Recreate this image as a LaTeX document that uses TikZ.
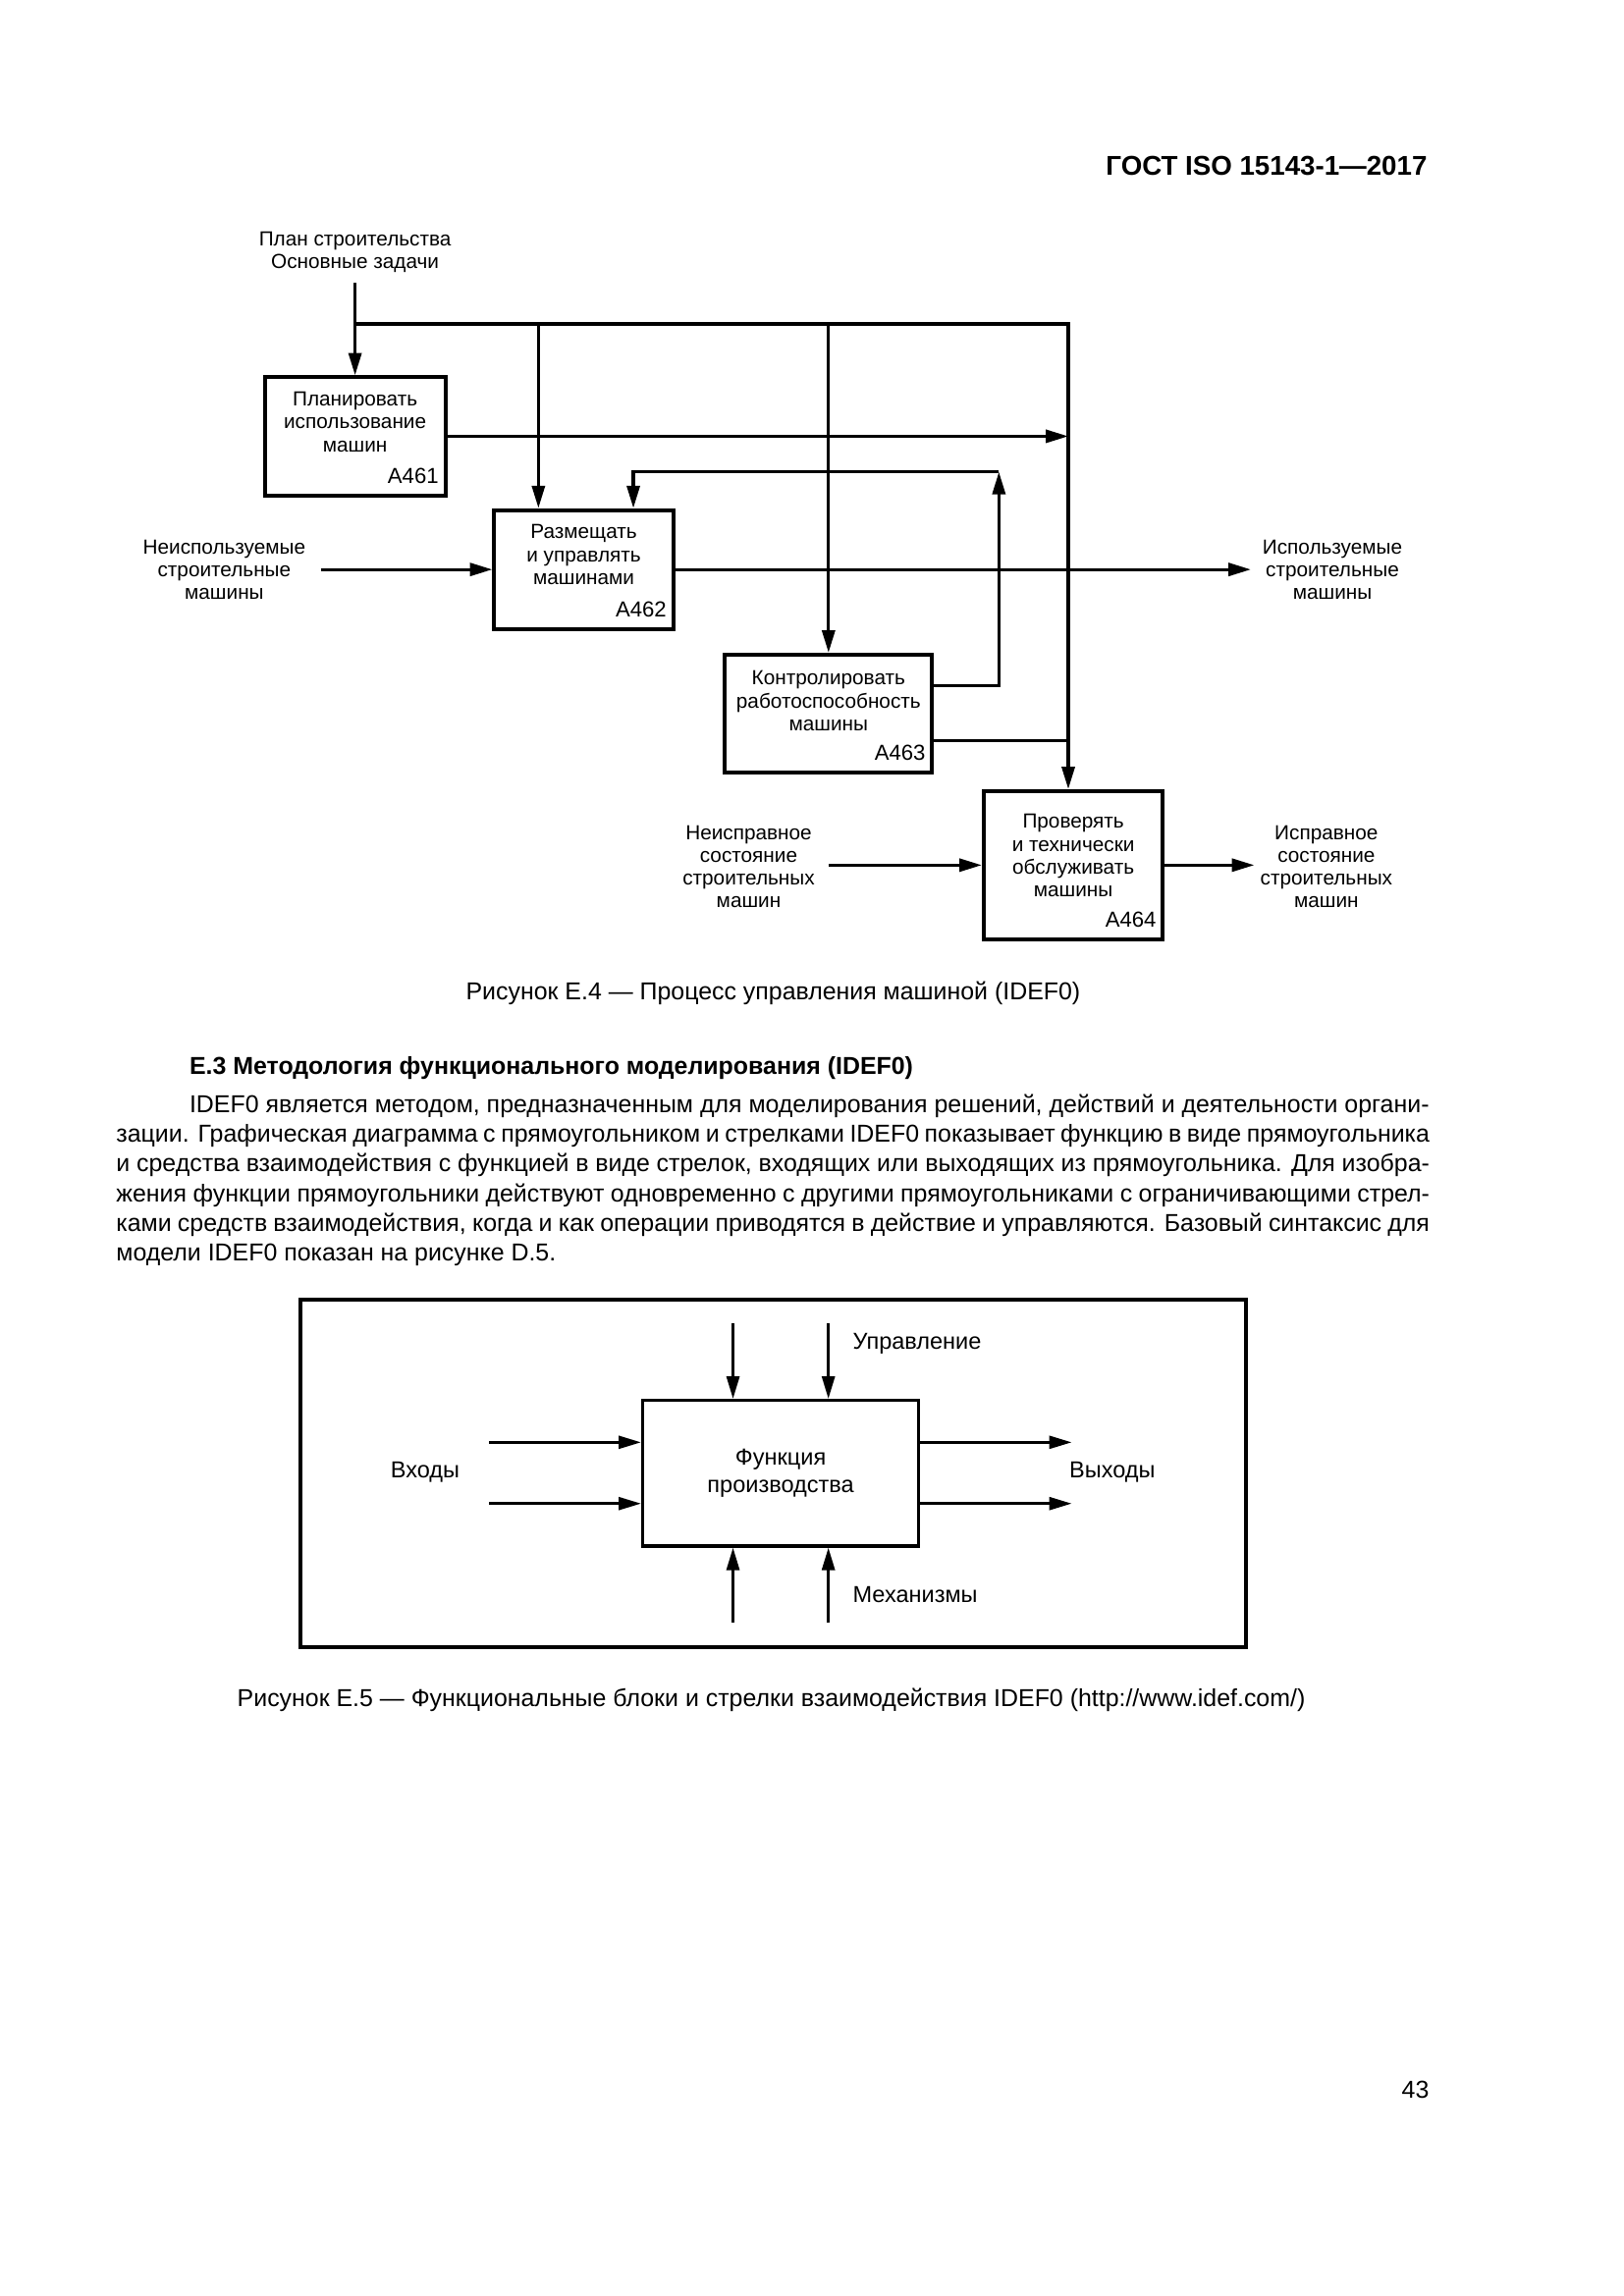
\documentclass[tikz,border=0pt]{standalone}
\usepackage{fontspec}
\setmainfont{Liberation Sans}
\usetikzlibrary{arrows.meta}

\begin{document}
\begin{tikzpicture}[x=0.190909mm, y=-0.190909mm,
    every node/.style={inner sep=0pt, font=\fontsize{7.5}{8.4}\selectfont},
    fn/.style={draw, line width=1.4pt},
    txt/.style={align=center},
    num/.style={anchor=base east, font=\fontsize{8}{9}\selectfont},
    flow/.style={line width=1.2pt, -{Triangle[length=2.9mm, width=1.65mm]}},
    pipe/.style={line width=1.2pt},
    page/.style={font=\fontsize{9}{11}\selectfont},
    para/.style={anchor=base west, font=\fontsize{9}{11}\selectfont}]

            \path[use as bounding box, fill=white] (0,0) rectangle (1100,1555.6);

            % Page head
            \node[anchor=base east, font=\fontsize{10}{12}\selectfont\bfseries] (gost) at (967,118.6) {ГОСТ ISO 15143-1—2017};

            % Function boxes
            \foreach \n/\x/\y/\w/\h in {A461/240.5/295.6/23.35/15.27, A462/395.4/385.85/23.14/15.37,
                                       A463/561.2/483.35/26.8/15.22, A464/727/586.15/23.18/19.15}
            {
              \node[fn, minimum width=\w mm, minimum height=\h mm] (\n) at (\x,\y) {};
              \node[num] (num\n) at ([xshift=-1.05mm, yshift=1.8mm]\n.south east) {\n};
            }
            \node[txt] (tA461) at (240.5,285.8) {Планировать\\использование\\машин};
            \node[txt] (tA462) at (395.4,375.9) {Размещать\\и управлять\\машинами};
            \node[txt] (tA463) at (561.2,475) {Контролировать\\работоспособность\\машины};
            \node[txt] (tA464) at (727,579.7) {Проверять\\и технически\\обслуживать\\машины};

            % Outside labels
            \node[txt] (planlbl) at (240.5,170.75) {План строительства\\Основные задачи};
            \node[txt] (unusedlbl) at (151.9,386) {Неиспользуемые\\строительные\\машины};
            \node[txt] (usedlbl) at (902.5,386) {Используемые\\строительные\\машины};
            \node[txt] (faultylbl) at (507.1,587.2) {Неисправное\\состояние\\строительных\\машин};
            \node[txt] (fixedlbl) at (898.4,587.2) {Исправное\\состояние\\строительных\\машин};

            % Control lines
            \coordinate (plan) at (240.5,191.8);
            \coordinate (ctl) at (240.5,219.5);
            \coordinate (ctlA462) at (364.7,219.5);
            \coordinate (ctlA463) at (561.2,219.5);
            \coordinate (ctlA464) at (723.6,219.5);
            \draw[flow] (plan) -- (A461.north);
            \draw[flow] (ctl) -- (ctlA464) -- (ctlA464 |- A464.north);
            \draw[flow] (ctlA462) -- (ctlA462 |- A462.north);
            \draw[flow] (ctlA463) -- (A463.north);
            \draw[flow] (A461.east) -- (A461.east -| ctlA464);
            \draw[pipe] ([yshift=-3.5mm]A463.east) -- ([yshift=-3.5mm]A463.east -| ctlA464);

            % Feedback
            \coordinate (fbR) at (676.6,319.7);
            \coordinate (fbL) at (429,319.7);
            \draw[flow] ([yshift=3.62mm]A463.east) -| (fbR);
            \draw[flow] (fbR) -| (fbL |- A462.north);

            % Inputs and outputs
            \coordinate (unused) at (217.3,385.85);
            \coordinate (used) at (847.3,385.85);
            \coordinate (faulty) at (561.3,586.15);
            \coordinate (fixed) at (849.6,586.15);
            \draw[flow] (unused) -- (A462.west);
            \draw[flow] (A462.east) -- (used);
            \draw[flow] (faulty) -- (A464.west);
            \draw[flow] (A464.east) -- (fixed);

            % Text
            \node[page, anchor=base] (capE4) at (523.7,677.1) {Рисунок Е.4 — Процесс управления машиной (IDEF0)};
            \node[para, font=\fontsize{9}{11}\selectfont\bfseries] (sec) at (128,728.1) {Е.3 Методология функционального моделирования (IDEF0)};
            \node[para] (l1) at (128,753.6) {\makebox[160.3mm][s]{IDEF0 является методом, предназначенным для моделирования решений, действий и деятельности органи-}};
            \node[para] (l2) at (78.4,773.8) {\makebox[169.8mm][s]{зации. Графическая диаграмма с прямоугольником и стрелками IDEF0 показывает функцию в виде прямоугольника}};
            \node[para] (l3) at (78.4,794) {\makebox[169.8mm][s]{и средства взаимодействия с функцией в виде стрелок, входящих или выходящих из прямоугольника. Для изобра-}};
            \node[para] (l4) at (78.4,814.2) {\makebox[169.8mm][s]{жения функции прямоугольники действуют одновременно с другими прямоугольниками с ограничивающими стрел-}};
            \node[para] (l5) at (78.4,834.4) {\makebox[169.8mm][s]{ками средств взаимодействия, когда и как операции приводятся в действие и управляются. Базовый синтаксис для}};
            \node[para] (l6) at (78.4,854.6) {модели IDEF0 показан на рисунке D.5.};

            % IDEF0 syntax
            \draw[line width=1.4pt] (203.7,880.6) rectangle (843.8,1115.8);
            \node[fn, line width=1.2pt, minimum width=35.7mm, minimum height=18.84mm, align=center,
                  font=\fontsize{8.5}{10}\selectfont] (func) at (528.8,998.15) {Функция\\производства};
            \foreach \i/\x in {1/496.5, 2/561.1}
            {
              \coordinate (ctrl\i) at (\x,896.8);
              \coordinate (mech\i) at (\x,1099.6);
              \draw[flow, line width=1pt] (ctrl\i) -- (ctrl\i |- func.north);
              \draw[flow, line width=1pt] (mech\i) -- (mech\i |- func.south);
            }
            \foreach \i/\y in {1/977.2, 2/1018.7}
            {
              \coordinate (in\i) at (331.3,\y);
              \coordinate (out\i) at (725.9,\y);
              \draw[flow, line width=1pt] (in\i) -- (in\i -| func.west);
              \draw[flow, line width=1pt] (out\i -| func.east) -- (out\i);
            }
            \node[anchor=west, font=\fontsize{8.5}{10}\selectfont] (ctrllbl) at (577.3,910.7) {Управление};
            \node[anchor=west, font=\fontsize{8.5}{10}\selectfont] (mechlbl) at (577.3,1080.1) {Механизмы};
            \node[font=\fontsize{8.5}{10}\selectfont] (inlbl) at (288,997.6) {Входы};
            \node[font=\fontsize{8.5}{10}\selectfont] (outlbl) at (753.4,997.6) {Выходы};
            \node[page, anchor=base] (capE5) at (522.4,1156) {Рисунок Е.5 — Функциональные блоки и стрелки взаимодействия IDEF0 (http://www.idef.com/)};

            % Page number
            \node[page, anchor=base east] (pagenum) at (968.3,1421.5) {43};
          \end{tikzpicture}
\end{document}
